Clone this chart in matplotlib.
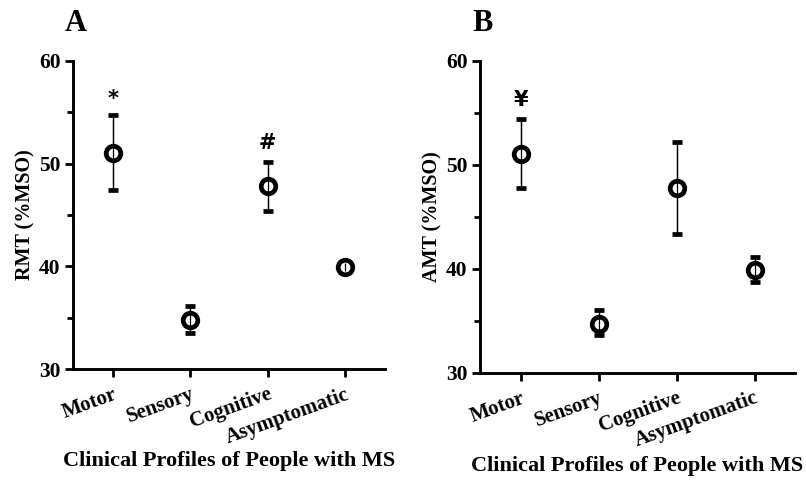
import matplotlib
matplotlib.use("Agg")
import matplotlib.pyplot as plt
from matplotlib.ticker import MultipleLocator

# data
profiles = ["Motor", "Sensory", "Cognitive", "Asymptomatic"]

rmt_mean = [51.0, 34.8, 47.8, 39.9]
rmt_lo = [47.4, 33.5, 45.4, 39.5]
rmt_hi = [54.7, 36.1, 50.2, 40.3]
rmt_marks = {"Motor": ("*", 56.3), "Cognitive": ("#", 52.0)}

amt_mean = [51.0, 34.7, 47.8, 39.9]
amt_lo = [47.8, 33.6, 43.4, 38.7]
amt_hi = [54.4, 36.0, 52.2, 41.1]
amt_marks = {"Motor": ("¥", 56.25)}

plt.rcParams["font.family"] = ["Liberation Serif", "DejaVu Serif"]
plt.rcParams["font.weight"] = "bold"

fig = plt.figure(figsize=(8.06, 4.83), dpi=100)


def panel(rect, mean, lo, hi, marks, ylabel, letter):
    ax = fig.add_axes(rect)
    x = list(range(len(profiles)))
    yerr = [[m - l for m, l in zip(mean, lo)], [h - m for m, h in zip(mean, hi)]]
    ax.errorbar(x, mean, yerr=yerr, fmt="o", color="black", ecolor="black",
                elinewidth=0.9, capsize=3.5, capthick=0.8,
                markersize=10.5, markerfacecolor="white",
                markeredgewidth=3.4, markeredgecolor="black", zorder=3)
    # the error line shows through the open marker
    ax.errorbar(x, mean, yerr=yerr, fmt="none", ecolor="black",
                elinewidth=0.9, capsize=0, zorder=4)
    for name, (sym, yv) in marks.items():
        ax.text(profiles.index(name), yv, sym, ha="center", va="center",
                fontsize=15, fontweight="bold", family=["DejaVu Sans"])
    ax.set_xlim(-0.52, 3.52)
    ax.set_ylim(30, 60)
    ax.yaxis.set_major_locator(MultipleLocator(10))
    ax.yaxis.set_minor_locator(MultipleLocator(5))
    ax.set_xticks(x)
    ax.set_xticklabels(profiles, rotation=20, ha="right", rotation_mode="anchor",
                       fontsize=15, fontweight="bold")
    for sp in ["top", "right"]:
        ax.spines[sp].set_visible(False)
    for sp in ["left", "bottom"]:
        ax.spines[sp].set_linewidth(2.1)
    ax.tick_params(axis="both", which="major", width=2.0, length=6, pad=3)
    ax.tick_params(axis="x", which="major", pad=5)
    ax.tick_params(axis="y", which="major", labelsize=15.5)
    ax.tick_params(axis="y", which="minor", width=2.0, length=4)
    for lab in ax.get_yticklabels():
        lab.set_fontweight("bold")
    ax.set_ylabel(ylabel, fontsize=14.5, fontweight="bold")
    ax.yaxis.set_label_coords(-0.12, 0.5)
    ax.set_xlabel("Clinical Profiles of People with MS", fontsize=16,
                  fontweight="bold")
    ax.xaxis.set_label_coords(0.5, -0.265)
    ax.text(-0.025, 1.12, letter, transform=ax.transAxes, fontsize=22,
            fontweight="bold", ha="left", va="center")
    return ax


panel([0.0906, 0.236, 0.387, 0.638], rmt_mean, rmt_lo, rmt_hi, rmt_marks,
      "RMT (%MSO)", "A")
panel([0.5955, 0.228, 0.391, 0.646], amt_mean, amt_lo, amt_hi, amt_marks,
      "AMT (%MSO)", "B")

fig.savefig("out.png", dpi=100)
plt.close(fig)
